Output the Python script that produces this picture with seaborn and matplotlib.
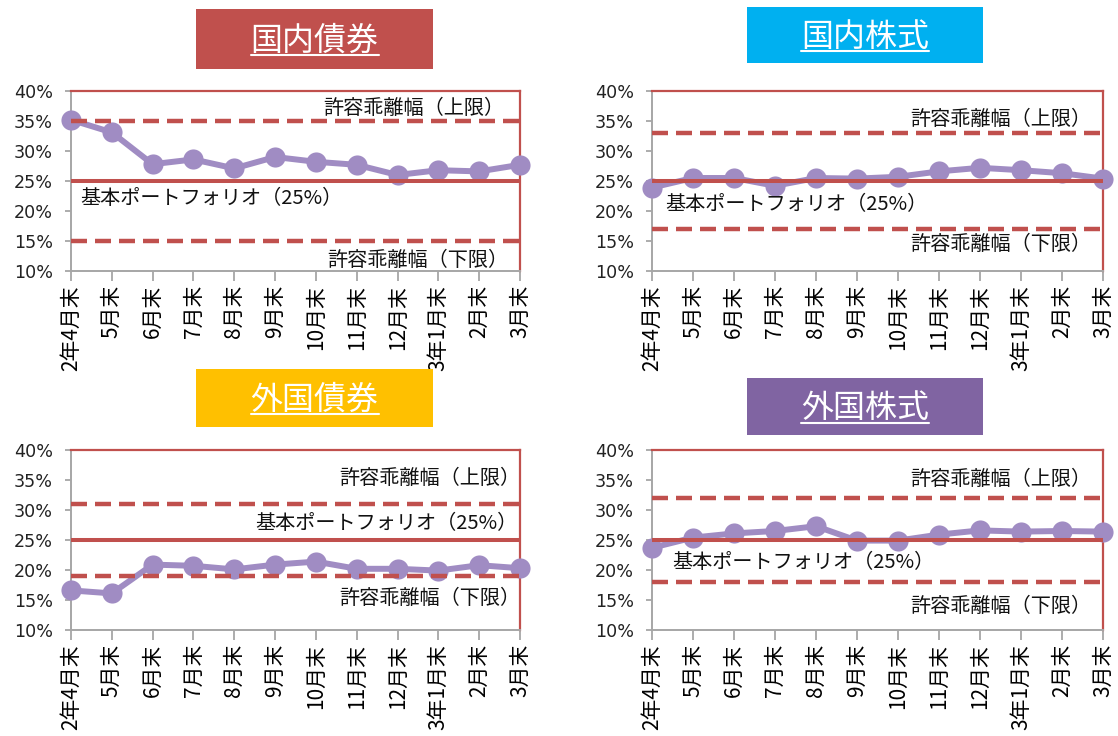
import numpy as np
import pandas as pd
import seaborn as sns
import matplotlib
matplotlib.use("Agg")
import matplotlib.pyplot as plt
from matplotlib.patches import Rectangle
from matplotlib.lines import Line2D

sns.set_theme(style="white")
plt.rcParams["font.family"] = ["Noto Sans CJK JP", "DejaVu Sans"]

# ---- data ----
months = ["2年4月末", "5月末", "6月末", "7月末", "8月末", "9月末", "10月末",
          "11月末", "12月末", "3年1月末", "2月末", "3月末"]
titles = ["国内債券", "国内株式", "外国債券", "外国株式"]
title_colors = ["#C0504D", "#00B0F0", "#FFC000", "#8064A2"]

dom_bond = [35.2, 33.1, 27.8, 28.6, 27.1, 29.0, 28.2, 27.7, 26.0, 26.8, 26.6, 27.7]
dom_equity = [23.9, 25.5, 25.5, 24.2, 25.5, 25.4, 25.7, 26.6, 27.2, 26.8, 26.3, 25.4]
for_bond = [16.6, 16.1, 20.9, 20.7, 20.1, 20.9, 21.4, 20.2, 20.2, 19.9, 20.8, 20.3]
for_equity = [23.7, 25.4, 26.1, 26.5, 27.3, 24.9, 24.9, 25.9, 26.6, 26.4, 26.5, 26.4]
series = [dom_bond, dom_equity, for_bond, for_equity]

base = 25
upper = [35, 33, 31, 32]
lower = [15, 17, 19, 18]

upper_label = "許容乖離幅（上限）"
lower_label = "許容乖離幅（下限）"
base_label = "基本ポートフォリオ（25%）"

# ---- layout ----
W, H = 1118, 736
fig = plt.figure(figsize=(W / 100, H / 100), dpi=100)

def ax_rect(l, t, r, b):
    return [l / W, 1 - b / H, (r - l) / W, (b - t) / H]

ax_boxes = [(71, 91, 520, 271), (652, 91, 1103, 271),
            (71, 450, 520, 630), (652, 450, 1103, 630)]
title_boxes = [(196, 9, 433, 69), (747, 7, 983, 63),
               (196, 369, 433, 427), (747, 378, 983, 435)]

# label placement: (x_axes_frac, y_data, ha)
upper_pos = [(0.965, 37.1, "right"), (0.975, 35.3, "right"), (1.0, 35.2, "right"), (0.975, 35.1, "right")]
lower_pos = [(0.975, 11.8, "right"), (0.975, 14.4, "right"), (1.0, 15.3, "right"), (0.975, 14.0, "right")]
base_pos = [(0.02, 22.1, "left"), (0.03, 21.0, "left"), (0.995, 27.7, "right"), (0.045, 21.3, "left")]

RED = "#C0504D"
PURPLE = "#A08CC3"
GRAY = "#A6A6A6"

for i in range(4):
    ax = fig.add_axes(ax_rect(*ax_boxes[i]))
    df = pd.DataFrame({"pos": np.arange(len(months)), "ratio": series[i]})
    sns.lineplot(data=df, x="pos", y="ratio", ax=ax, color=PURPLE,
                 linewidth=4.3, marker="o", markersize=14.5, markeredgewidth=0,
                 clip_on=False, zorder=3)
    ax.axhline(base, color=RED, linewidth=2.9, zorder=4)
    ax.axhline(upper[i], color=RED, linewidth=3.2, linestyle=(0, (3.6, 1.8)), zorder=4)
    ax.axhline(lower[i], color=RED, linewidth=3.2, linestyle=(0, (3.6, 1.8)), zorder=4)

    ax.set_xlim(0, len(months) - 1)
    ax.set_ylim(10, 40)
    ax.set_yticks(range(10, 41, 5))
    ax.set_yticklabels([f"{v}%" for v in range(10, 41, 5)], fontsize=12.6,
                       family=["DejaVu Sans"])
    ax.set_xticks(np.arange(len(months)))
    ax.set_xticklabels(months, rotation=90, fontsize=15, ha="center", va="top")
    ax.set_xlabel("")
    ax.set_ylabel("")
    ax.grid(False)

    for s in ("left", "bottom"):
        ax.spines[s].set_color(GRAY)
        ax.spines[s].set_linewidth(1.4)
    for s in ("top", "right"):
        ax.spines[s].set_color(RED)
        ax.spines[s].set_linewidth(1.6)
    ax.tick_params(axis="x", bottom=True, length=7, width=1.3, color=GRAY,
                   direction="out", pad=3, labelcolor="black")
    ax.tick_params(axis="y", left=True, length=4, width=1.3, color=GRAY,
                   direction="out", pad=9, labelcolor="#222222")

    tr = ax.get_yaxis_transform()
    x, y, ha = upper_pos[i]
    ax.text(x, y, upper_label, transform=tr, ha=ha, va="center", fontsize=14.5, color="#111111", zorder=5)
    x, y, ha = lower_pos[i]
    ax.text(x, y, lower_label, transform=tr, ha=ha, va="center", fontsize=14.5, color="#111111", zorder=5)
    x, y, ha = base_pos[i]
    ax.text(x, y, base_label, transform=tr, ha=ha, va="center", fontsize=14.5, color="#111111", zorder=5)

# title boxes
title_texts = []
for i in range(4):
    x0, y0, x1, y1 = title_boxes[i]
    fig.add_artist(Rectangle((x0 / W, 1 - y1 / H), (x1 - x0) / W, (y1 - y0) / H,
                             transform=fig.transFigure, facecolor=title_colors[i],
                             edgecolor="none", zorder=1))
    t = fig.text((x0 + x1) / 2 / W, 1 - ((y0 + y1) / 2 + 2) / H, titles[i],
                 ha="center", va="center", color="white", fontsize=23, zorder=2)
    title_texts.append(t)

fig.canvas.draw()
renderer = fig.canvas.get_renderer()
for t in title_texts:
    bb = t.get_window_extent(renderer)
    yline = bb.y0 + 2
    fig.add_artist(Line2D([bb.x0 / W, bb.x1 / W], [yline / H, yline / H],
                          transform=fig.transFigure, color="white", linewidth=1.5, zorder=3))

fig.savefig("out.png", dpi=100)
